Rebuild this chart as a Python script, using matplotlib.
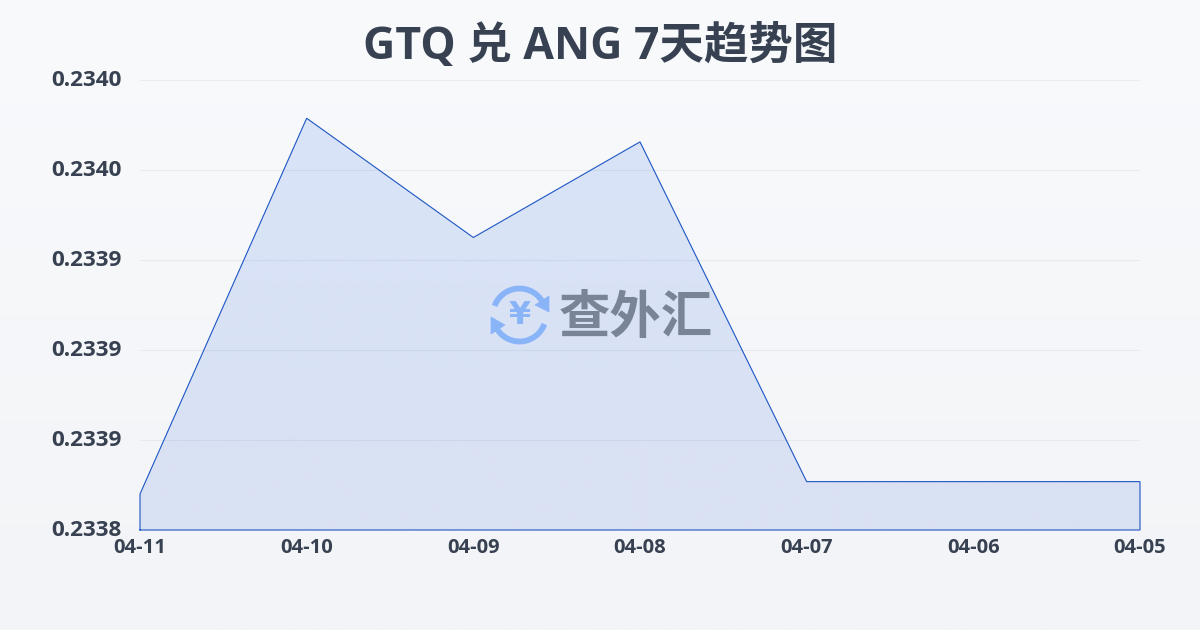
import numpy as np
import matplotlib
matplotlib.use("Agg")
import matplotlib.pyplot as plt
from matplotlib.patches import Polygon, Arc
from matplotlib.transforms import ScaledTranslation

plt.rcParams['font.family'] = ['Open Sans', 'Noto Sans CJK SC', 'DejaVu Sans']

dates = ['04-11', '04-10', '04-09', '04-08', '04-07', '04-06', '04-05']
rates = [0.233826, 0.233993, 0.233940, 0.2339825, 0.2338315, 0.2338315, 0.2338315]
y_ticks = [0.23381, 0.23385, 0.23389, 0.23393, 0.23397, 0.23401]
y_labels = ['0.2338', '0.2339', '0.2339', '0.2339', '0.2340', '0.2340']
title = 'GTQ 兑 ANG 7天趋势图'
watermark = '查外汇'

TEXT = '#374151'
LINE = '#1d56c4'

fig = plt.figure(figsize=(12, 6.3), dpi=100)

# page background gradient
bg = fig.add_axes([0, 0, 1, 1], zorder=0)
bg.axis('off')
bg.imshow(np.linspace(0, 1, 256).reshape(-1, 1),
          cmap=matplotlib.colors.LinearSegmentedColormap.from_list('b', ['#f8fafc', '#f3f4f7']),
          aspect='auto', extent=[0, 1, 0, 1])

ax = fig.add_axes([140/1200, 1-530/630, 1000/1200, 450/630], zorder=1)
ax.patch.set_alpha(0)
x = np.arange(len(dates))
ax.set_xlim(0, len(dates)-1)
ax.set_ylim(y_ticks[0], y_ticks[-1])

# gradient fill under the line
grad = matplotlib.colors.LinearSegmentedColormap.from_list('f', ['#d9e4f8', '#d9e1f3'])
im = ax.imshow(np.linspace(0, 1, 256).reshape(-1, 1), cmap=grad, aspect='auto',
               extent=[x[0], x[-1], y_ticks[0], max(rates)], zorder=1)
verts = [(x[0], y_ticks[0])] + list(zip(x, rates)) + [(x[-1], y_ticks[0])]
poly = Polygon(verts, closed=True, fc='none', ec='none', transform=ax.transData)
ax.add_patch(poly)
im.set_clip_path(poly)
ax.set_xlim(0, len(dates)-1)
ax.set_ylim(y_ticks[0], y_ticks[-1])

# grid
ax.set_yticks(y_ticks)
ax.set_yticklabels(y_labels, fontsize=16.2, fontweight='bold', color=TEXT)
ax.set_xticks(x)
ax.set_xticklabels(dates, fontsize=14.5, fontweight='bold', color=TEXT)
ax.grid(axis='y', color='#0f2a5c', alpha=0.06, lw=0.8, zorder=2)
ax.set_axisbelow(False)
ax.tick_params(axis='y', length=0, pad=13)
ax.tick_params(axis='x', length=0, pad=6)
for lab in ax.get_yticklabels():
    lab.set_transform(lab.get_transform() + ScaledTranslation(0, 1.5/72, fig.dpi_scale_trans))
for s in ax.spines.values():
    s.set_visible(False)

# outline: closed along the baseline and both edges
ax.plot([p[0] for p in verts] + [verts[0][0]], [p[1] for p in verts] + [verts[0][1]],
        color=LINE, lw=0.8, zorder=3, clip_on=False, solid_joinstyle='miter')

fig.text(600/1200, 1-47.5/630, title, ha='center', va='center', fontsize=32,
         fontweight='bold', color=TEXT)

# watermark in pixel coordinates
ov = fig.add_axes([0, 0, 1, 1], zorder=3)
ov.axis('off')
ov.patch.set_alpha(0)
ov.set_xlim(0, 1200)
ov.set_ylim(630, 0)
BLUE = '#8ab4f8'
cx, cy, r = 519.5, 315, 26.5
ov.add_patch(Arc((cx, cy), 2*r, 2*r, theta1=200, theta2=330, color=BLUE, lw=4.2))
ov.add_patch(Arc((cx, cy), 2*r, 2*r, theta1=20, theta2=150, color=BLUE, lw=4.2))
ov.add_patch(Polygon([(549, 296), (549, 312), (535, 305)], closed=True, fc=BLUE, ec=BLUE, lw=0.5))
ov.add_patch(Polygon([(491, 334), (491, 317), (505, 325)], closed=True, fc=BLUE, ec=BLUE, lw=0.5))
ov.text(cx, cy, '¥', ha='center', va='center', fontsize=23, fontweight='bold', color=BLUE,
        family=['DejaVu Sans'])
ov.text(636, 318, watermark, ha='center', va='center', fontsize=37, fontweight='black',
        color='#7a8497', family=['Noto Sans CJK SC'])

fig.savefig('out.png', dpi=100)
